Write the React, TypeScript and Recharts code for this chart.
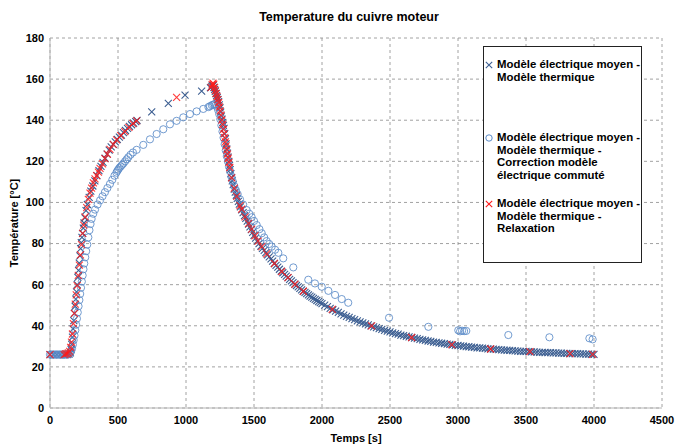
import React from 'react';
import { ScatterChart, Scatter, XAxis, YAxis, CartesianGrid } from 'recharts';

type P = [number, number];

const chartTitle = 'Temperature du cuivre moteur';
const xTitle = 'Temps [s]';
const yTitle = 'Température [°C]';
const xTicks = [0, 500, 1000, 1500, 2000, 2500, 3000, 3500, 4000, 4500];
const yTicks = [0, 20, 40, 60, 80, 100, 120, 140, 160, 180];

const legendMoyen = ['Modèle électrique moyen -', 'Modèle thermique'];
const legendCorrection = ['Modèle électrique moyen -', 'Modèle thermique -', 'Correction modèle', 'électrique commuté'];
const legendRelaxation = ['Modèle électrique moyen -', 'Modèle thermique -', 'Relaxation'];

// Modèle électrique moyen - Modèle thermique
const moyenThermique: P[] = [
  [0, 26], [25, 26], [50, 26], [75, 26], [100, 26], [115, 26], [130, 26], [140, 26.2], [150, 26.8],
  [155, 28.5], [160, 31], [165, 34.5], [170, 38.5], [175, 42.5], [180, 46], [185, 49.5], [190, 53],
  [195, 56.5], [200, 60], [205, 63.5], [210, 67], [215, 70.5], [220, 74], [225, 77.5], [230, 80.5],
  [235, 83], [240, 85], [245, 87.5], [250, 90], [257, 92.5], [265, 96], [275, 99], [288, 102.5],
  [300, 105.5], [315, 108], [330, 110.5], [345, 113], [360, 115.5], [375, 117.5], [390, 119.5],
  [405, 121.5], [420, 123.5], [435, 125.5], [450, 127], [465, 128.3], [480, 129.5], [495, 130.7],
  [510, 131.8], [525, 132.8], [540, 134], [555, 135], [570, 136], [585, 137], [600, 137.8],
  [615, 138.6], [630, 139.3], [640, 139.9],
  [748, 144.1], [870, 148.2], [993, 152.2], [1115, 154.2], [1180, 155.8], [1190, 156.5],
  [1195, 156.8], [1200, 157], [1205, 156], [1210, 155], [1215, 154], [1220, 153], [1225, 152],
  [1230, 151], [1235, 150], [1240, 149], [1245, 147.5], [1250, 146], [1255, 144], [1260, 142],
  [1265, 140.5], [1270, 139], [1275, 137.5], [1280, 136], [1285, 133.5], [1290, 131], [1295, 128.5],
  [1300, 126], [1305, 124], [1310, 122], [1315, 120], [1320, 118], [1325, 116], [1330, 114],
  [1335, 112.2], [1340, 110.5], [1347, 108.7], [1355, 106.5], [1362, 105], [1370, 103.5],
  [1377, 102], [1385, 100.5], [1392, 99.2], [1400, 97.8], [1410, 96.4], [1420, 95], [1430, 93.6],
  [1440, 92.3], [1450, 90.9], [1460, 89.5], [1470, 88.1], [1480, 86.8], [1490, 85.4], [1500, 84],
  [1512, 82.6], [1525, 81.3], [1537, 80], [1550, 78.8], [1562, 77.7], [1575, 76.7], [1587, 75.6],
  [1600, 74.5], [1612, 73.5], [1625, 72.5], [1637, 71.4], [1650, 70.3], [1662, 69.4], [1675, 68.5],
  [1687, 67.5], [1700, 66.6], [1712, 65.8], [1725, 65], [1737, 64.2], [1750, 63.4], [1762, 62.6],
  [1775, 61.8], [1787, 61], [1800, 60.3], [1812, 59.6], [1825, 58.9], [1837, 58.2], [1850, 57.5],
  [1862, 56.8], [1875, 56.2], [1887, 55.6], [1900, 55], [1912, 54.4], [1925, 53.9], [1937, 53.3],
  [1950, 52.8], [1962, 52.3], [1975, 51.8], [1987, 51.3], [2000, 50.8],
  [2020, 50], [2040, 49.3], [2060, 48.5], [2080, 47.8], [2100, 47.1], [2120, 46.5], [2140, 45.8],
  [2160, 45.2], [2180, 44.6], [2200, 44.1], [2220, 43.5], [2240, 43], [2260, 42.4], [2280, 41.9],
  [2300, 41.4], [2320, 40.9], [2340, 40.4], [2360, 40], [2380, 39.5], [2400, 39.1], [2420, 38.6],
  [2440, 38.2], [2460, 37.8], [2480, 37.4], [2500, 37], [2520, 36.6], [2540, 36.2], [2560, 35.9],
  [2580, 35.5], [2600, 35.2], [2620, 34.9], [2640, 34.6], [2660, 34.3], [2680, 34], [2700, 33.7],
  [2720, 33.4], [2740, 33.1], [2760, 32.9], [2780, 32.6], [2800, 32.4], [2820, 32.1], [2840, 31.9],
  [2860, 31.7], [2880, 31.5], [2900, 31.3], [2920, 31.1], [2940, 30.9], [2960, 30.7], [2980, 30.5],
  [3000, 30.4], [3020, 30.2], [3040, 30.1], [3060, 29.9], [3080, 29.8], [3100, 29.6], [3120, 29.5],
  [3140, 29.3], [3160, 29.2], [3180, 29.1], [3200, 29], [3220, 28.8], [3240, 28.7], [3260, 28.6],
  [3280, 28.5], [3300, 28.4], [3320, 28.3], [3340, 28.2], [3360, 28.1], [3380, 28], [3400, 27.9],
  [3420, 27.8], [3440, 27.7], [3460, 27.6], [3480, 27.6], [3500, 27.5], [3520, 27.4], [3540, 27.3],
  [3560, 27.3], [3580, 27.2], [3600, 27.1], [3620, 27.1], [3640, 27], [3660, 26.9], [3680, 26.9],
  [3700, 26.8], [3720, 26.8], [3740, 26.7], [3760, 26.7], [3780, 26.6], [3800, 26.6], [3820, 26.5],
  [3840, 26.5], [3860, 26.4], [3880, 26.4], [3900, 26.3], [3920, 26.3], [3940, 26.2], [3960, 26.2],
  [3980, 26.1], [4000, 26.1],
];

// Modèle électrique moyen - Modèle thermique - Correction modèle électrique commuté
const correctionCommute: P[] = [
  [0, 26], [10, 26], [20, 26], [30, 26], [40, 26], [50, 26], [60, 26], [70, 26], [80, 26], [90, 26],
  [100, 26], [110, 26], [120, 26], [130, 26], [140, 26.2], [150, 26.8], [156, 27.8], [162, 29],
  [168, 30.8], [174, 33], [180, 35.3], [186, 37.8], [192, 40.5], [198, 43.5], [204, 46.5], [210, 49.5],
  [216, 52.5], [222, 55.5], [228, 58.5], [234, 61.5], [240, 64.5], [246, 67.5], [252, 70.3],
  [259, 73.3], [266, 76.3], [274, 79.5], [282, 83], [290, 86.5], [298, 89.5], [306, 92], [318, 94.5],
  [331, 96.5], [350, 99], [368, 101], [386, 103], [404, 105], [422, 107], [441, 109], [458, 111],
  [474, 113], [488, 114.5], [495, 115.3], [502, 116], [510, 116.8], [520, 117.5], [530, 118.3],
  [540, 119], [552, 120], [564, 121], [576, 122], [592, 123.2], [610, 124.3], [637, 125.6],
  [686, 128], [735, 130.7], [784, 133.3], [833, 135.6], [882, 138], [931, 139.7], [980, 141.4],
  [1029, 143], [1078, 144.3], [1127, 145.5], [1165, 146.4], [1176, 146.8], [1190, 147.3],
  [1200, 147.6], [1210, 147.8],
  [1220, 147.5], [1228, 146.5], [1236, 145], [1244, 143], [1252, 140.5], [1260, 137.5],
  [1268, 134.5], [1276, 131.5], [1284, 128.3], [1292, 125.3], [1300, 122.5], [1308, 120],
  [1316, 117.5], [1324, 115.2], [1334, 112.5], [1344, 110.2], [1355, 108], [1367, 106], [1380, 104],
  [1397, 101.5], [1420, 99], [1446, 96.3], [1465, 94.5], [1483, 92.8], [1500, 91], [1520, 89],
  [1540, 87], [1557, 85], [1575, 83], [1593, 81.2], [1612, 79.8], [1630, 78.5], [1655, 77],
  [1679, 75.5], [1715, 72.8], [1789, 68.4], [1899, 62.4], [1948, 60.6], [1998, 59], [2047, 57],
  [2096, 55], [2145, 53], [2193, 51.2], [2493, 43.9], [2782, 39.5], [3002, 37.8], [3015, 37.3],
  [3030, 37.6], [3045, 37.4], [3061, 37.5], [3370, 35.5], [3672, 34.4], [3966, 33.9], [3990, 33.4],
];

// Modèle électrique moyen - Modèle thermique - Relaxation
const relaxation: P[] = [
  [0, 26], [105, 26], [115, 26.3], [125, 26.5], [135, 26.8], [145, 27.5], [152, 29.5], [158, 32],
  [165, 36], [172, 41], [179, 46], [186, 50.5], [193, 55], [200, 59.5], [208, 64.5], [216, 69.5],
  [224, 74.5], [232, 79.5], [240, 85], [248, 89], [258, 93], [270, 97.5], [282, 101.5], [294, 104.5],
  [306, 107], [319, 109.5], [331, 111.5], [343, 113], [356, 114.8], [368, 116.6], [386, 118.8],
  [404, 121.3], [422, 123.5], [441, 125.8], [465, 128.2], [490, 130.4], [520, 132.5], [550, 134.4],
  [580, 136.5], [610, 138.3], [637, 139.7], [931, 151.1],
  [1185, 156], [1192, 157.3], [1198, 158], [1204, 157.5], [1210, 156], [1216, 154.5], [1222, 153],
  [1228, 151.5], [1234, 150], [1240, 148.5], [1246, 146.5], [1252, 144.5], [1258, 142.5],
  [1264, 140], [1270, 138], [1275, 135.5], [1280, 133.5], [1285, 131.5], [1290, 129.5],
  [1295, 127.5], [1300, 125.5], [1305, 123.5], [1310, 121.5], [1316, 119.5], [1322, 117],
  [1336, 112], [1355, 107], [1373, 103], [1397, 98.5], [1409, 96.8], [1434, 93], [1460, 89.8],
  [1483, 87], [1507, 83.8], [1530, 81.2], [1557, 78.5], [1593, 75], [1650, 70.3], [1704, 66.4],
  [1750, 63.4], [1801, 60.2], [1863, 56.8], [2075, 48], [2365, 39.9], [2659, 34.3], [2954, 30.8],
  [3240, 28.7], [3529, 27.4], [3824, 26.5], [3990, 26.1],
];

const toRows = (pts: P[]) => pts.map(([t, temp]) => ({ t, temp }));

const DARK = '#3d5f92';
const LIGHT = '#5b8bc8';
const RED = '#ff1a1a';
const FONT = '"Liberation Sans", Arial, sans-serif';

const makeX = (color: string, opacity = 1) => (props: any) => {
  const { cx, cy } = props;
  if (cx == null || cy == null) return <g />;
  const s = 3.5;
  return (
    <path
      d={`M${cx - s},${cy - s}L${cx + s},${cy + s}M${cx - s},${cy + s}L${cx + s},${cy - s}`}
      stroke={color}
      strokeOpacity={opacity}
      strokeWidth={1.1}
      fill="none"
    />
  );
};

const CircleShape = (props: any) => {
  const { cx, cy } = props;
  if (cx == null || cy == null) return <g />;
  return <circle cx={cx} cy={cy} r={3.6} stroke={LIGHT} strokeWidth={1} fill="none" strokeOpacity={0.85} />;
};

const LegendMarker = ({ kind }: { kind: 'darkx' | 'circle' | 'redx' }) => (
  <svg width={10} height={10} style={{ position: 'absolute', left: -13, top: 1.5 }}>
    {kind === 'circle' ? (
      <circle cx={5} cy={5} r={3.2} stroke={LIGHT} strokeWidth={1} fill="none" />
    ) : (
      <path d="M1.8,1.8L8.2,8.2M1.8,8.2L8.2,1.8" stroke={kind === 'darkx' ? DARK : RED} strokeWidth={1.1} fill="none" />
    )}
  </svg>
);

const LegendEntry = ({ top, lines, kind }: { top: number; lines: string[]; kind: 'darkx' | 'circle' | 'redx' }) => (
  <div style={{ position: 'absolute', left: 13, top, lineHeight: '12.5px' }}>
    <LegendMarker kind={kind} />
    {lines.map((l, i) => (
      <div key={i} style={{ whiteSpace: 'nowrap' }}>{l}</div>
    ))}
  </div>
);

export default function App() {
  return (
    <div style={{ position: 'absolute', left: 0, top: 0, width: 675, height: 446, background: '#fff', fontFamily: FONT }}>
      <div
        style={{
          position: 'absolute',
          left: 349,
          top: 10,
          transform: 'translateX(-50%)',
          fontSize: 12.5,
          fontWeight: 'bold',
          lineHeight: '14px',
          whiteSpace: 'nowrap',
          color: '#000',
        }}
      >
        {chartTitle}
      </div>
      <ScatterChart width={675} height={446} margin={{ top: 38, right: 13, left: 0, bottom: 0 }}>
        <CartesianGrid stroke="#8a8a8a" strokeDasharray="3 3" strokeWidth={0.8} />
        <XAxis
          type="number"
          dataKey="t"
          domain={[0, 4500]}
          ticks={xTicks}
          interval={0}
          height={38}
          tickLine={false}
          axisLine={{ stroke: '#b5b5b5' }}
          tick={{ fill: '#000', fontSize: 11, fontWeight: 'bold', fontFamily: FONT }}
          label={{
            content: () => (
              <text x={356} y={442} textAnchor="middle" fontSize={11} fontWeight="bold" fontFamily={FONT} fill="#000">
                {xTitle}
              </text>
            ),
          }}
        />
        <YAxis
          type="number"
          dataKey="temp"
          domain={[0, 180]}
          ticks={yTicks}
          interval={0}
          width={50}
          tickLine={false}
          tickSize={4}
          axisLine={{ stroke: '#b5b5b5' }}
          tick={{ fill: '#000', fontSize: 11, fontWeight: 'bold', fontFamily: FONT }}
          label={{
            content: () => (
              <text
                x={14}
                y={223}
                transform="rotate(-90 14 223)"
                textAnchor="middle"
                dominantBaseline="central"
                fontSize={11}
                fontWeight="bold"
                fontFamily={FONT}
                fill="#000"
              >
                {yTitle}
              </text>
            ),
          }}
        />
        <Scatter name="moyen" data={toRows(moyenThermique)} shape={makeX(DARK)} isAnimationActive={false} />
        <Scatter name="correction" data={toRows(correctionCommute)} shape={CircleShape} isAnimationActive={false} />
        <Scatter name="relaxation" data={toRows(relaxation)} shape={makeX(RED, 0.85)} isAnimationActive={false} />
      </ScatterChart>
      <div
        style={{
          position: 'absolute',
          left: 483,
          top: 46,
          width: 159,
          height: 217,
          boxSizing: 'border-box',
          border: '1px solid #222',
          background: '#fff',
          fontSize: 11.4,
          fontWeight: 'bold',
          color: '#000',
        }}
      >
        <LegendEntry top={11} lines={legendMoyen} kind="darkx" />
        <LegendEntry top={84} lines={legendCorrection} kind="circle" />
        <LegendEntry top={150} lines={legendRelaxation} kind="redx" />
      </div>
    </div>
  );
}
